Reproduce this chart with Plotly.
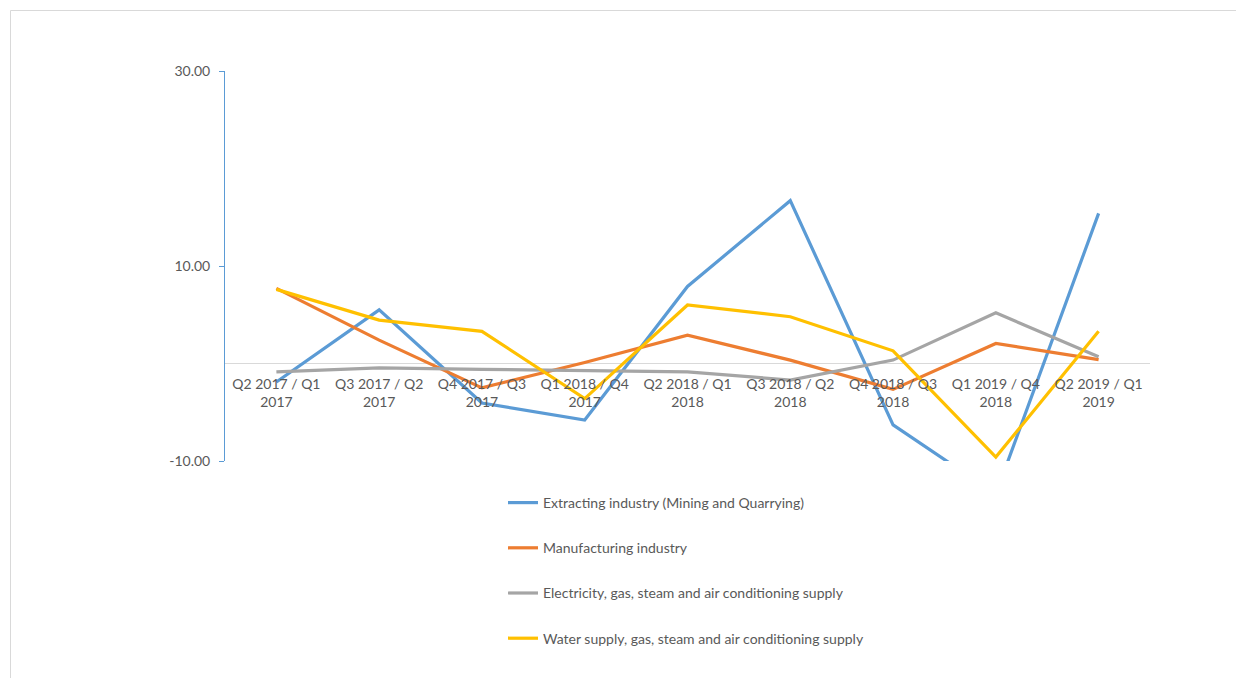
import plotly.graph_objects as go

categories = ["Q2 2017 / Q1<br>2017", "Q3 2017 / Q2<br>2017", "Q4 2017 / Q3<br>2017",
              "Q1 2018 / Q4<br>2017", "Q2 2018 / Q1<br>2018", "Q3 2018 / Q2<br>2018",
              "Q4 2018 / Q3<br>2018", "Q1 2019 / Q4<br>2018", "Q2 2019 / Q1<br>2019"]

y_tickvals = [-10, 10, 30]
y_ticktext = ["-10.00", "10.00", "30.00"]

extracting = [-1.9, 5.5, -4.05, -5.8, 7.9, 16.7, -6.3, -13.4, 15.4]
manufacturing = [7.7, 2.4, -2.5, 0.1, 2.9, 0.35, -2.65, 2.05, 0.4]
electricity = [-0.85, -0.45, -0.6, -0.75, -0.85, -1.7, 0.35, 5.2, 0.7]
water = [7.6, 4.45, 3.3, -3.6, 6.0, 4.8, 1.3, -9.6, 3.3]

names = ["Extracting industry (Mining and Quarrying)", "Manufacturing industry",
         "Electricity, gas, steam and air conditioning supply",
         "Water supply, gas, steam and air conditioning supply"]
series = [extracting, manufacturing, electricity, water]
colors = ["#5B9BD5", "#ED7D31", "#A5A5A5", "#FFC000"]

FONT = "Lato"
OFF = 8  # page body margin
W, H = 1236, 670
ml, mt = 225 - OFF, 71 - OFF
pw, ph = 925, 390
mr = W - ml - pw
mb = H - mt - ph

fig = go.Figure()
x_idx = list(range(len(categories)))
for i, (nm, vals, c) in enumerate(zip(names, series, colors)):
    fig.add_trace(go.Scatter(x=x_idx, y=vals, mode="lines", name=nm,
                             line=dict(color=c, width=3.2), legendgroup=str(i)))

def px2x(px):  # screen pixel -> paper x
    return (px - OFF - ml) / pw
def py2y(py):  # screen pixel -> paper y
    return (OFF + mt + ph - py) / ph

fig.add_shape(type="rect", xref="paper", yref="paper",
              x0=px2x(10.5), x1=px2x(1260), y0=py2y(10.5), y1=py2y(700),
              line=dict(color="#D9D9D9", width=1), fillcolor="rgba(0,0,0,0)", layer="below")

fig.update_layout(
    width=W, height=H,
    margin=dict(l=ml, r=mr, t=mt, b=mb),
    paper_bgcolor="white", plot_bgcolor="white",
    font=dict(family=FONT, color="#595959", size=14),
    showlegend=True,
    legend=dict(x=px2x(503), y=py2y(487), xanchor="left", yanchor="top",
                orientation="v", tracegroupgap=24, traceorder="grouped",
                font=dict(size=14, color="#595959", family=FONT)),
    xaxis=dict(type="linear", range=[-0.5, 8.5], tickmode="array", tickvals=x_idx,
               ticktext=categories, showgrid=False, showline=False, zeroline=False,
               ticks="", anchor="free", position=0.25, ticklabelstandoff=10,
               tickfont=dict(size=14, color="#595959", family=FONT)),
    yaxis=dict(range=[-10, 30], tickmode="array", tickvals=y_tickvals, ticktext=y_ticktext,
               showgrid=False, zeroline=True, zerolinecolor="#D9D9D9", zerolinewidth=1,
               showline=True, linecolor="#5B9BD5", linewidth=1,
               ticks="outside", ticklen=5, tickcolor="#5B9BD5", ticklabelstandoff=6,
               tickfont=dict(size=14, color="#595959", family=FONT)),
)

fig.write_html("out.html")
